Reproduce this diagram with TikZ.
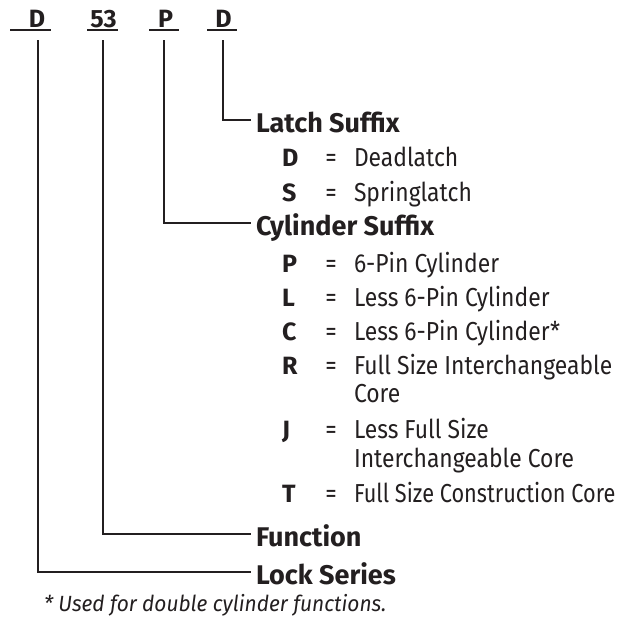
\documentclass[tikz,border=0pt]{standalone}
\usepackage{fontspec}
\setmainfont{Fira Sans}[FakeStretch=0.88]
\newfontfamily\boldfam{Fira Sans}[FakeStretch=1.0]
\newfontfamily\narrowfam{Fira Sans}[FakeStretch=0.835]
\newfontfamily\footfam{Fira Sans}[FakeStretch=0.95]
\definecolor{ink}{HTML}{231F20}
\begin{document}
\begin{tikzpicture}[x=1pt,y=-1pt,
  every node/.style={inner sep=0pt,outer sep=0pt,text=ink},
  toplbl/.style={font=\boldfam\bfseries\fontsize{25}{28}\selectfont,anchor=base},
  head/.style={font=\boldfam\fontsize{27}{30}\selectfont\bfseries,anchor=base west},
  keyl/.style={font=\boldfam\fontsize{25}{30}\selectfont\bfseries,anchor=base west},
  eqs/.style={font=\fontsize{26}{30}\selectfont,anchor=base},
  desc/.style={font=\fontsize{26}{30}\selectfont,anchor=base west},
  descn/.style={font=\narrowfam\fontsize{26}{30}\selectfont,anchor=base west},
  foot/.style={font=\footfam\fontsize{22}{26}\selectfont\itshape,anchor=base west},
  wire/.style={line width=2pt,draw=ink},
  uline/.style={line width=1.5pt,draw=ink}]
\useasboundingbox (0,0) rectangle (622,621);

% top code
\node[toplbl] (tA) at (37,27.3) {D};
\node[toplbl] (tB) at (103.5,27.3) {53};
\node[toplbl] (tC) at (165.5,27.3) {P};
\node[toplbl] (tD) at (223.5,27.3) {D};
\draw[uline] (10,30) -- (50.7,30);
\draw[line width=2.4pt,draw=ink] (10,29.8) -- (28,29.8);
\draw[uline] (87,30) -- (118,30);
\draw[uline] (149,30) -- (179,30);
\draw[uline] (207,30) -- (237,30);

\coordinate (vA) at (37.5,40);
\coordinate (vB) at (103.3,40);
\coordinate (vC) at (164.3,40);
\coordinate (vD) at (222.7,40);

% headings
\node[head] (hLatch) at (256,132.5) {Latch Suffix};
\node[head] (hCyl) at (256,235.3) {Cylinder Suffix};
\node[head] (hFunc) at (256,546.5) {Function};
\node[head] (hLock) at (256,584.7) {Lock Series};

% connectors
\draw[wire] (vD) |- ([xshift=-5.5pt,yshift=12.8pt]hLatch.base west);
\draw[wire] (vC) |- ([xshift=-5.5pt,yshift=12.8pt]hCyl.base west);
\draw[wire] (vB) |- ([xshift=-5.5pt,yshift=12.8pt]hFunc.base west);
\draw[wire] (vA) |- ([xshift=-5.5pt,yshift=12.8pt]hLock.base west);

% latch items
\node[keyl] (kD) at (282,166) {D};
\node[eqs] (eD) at (331,166) {=};
\node[desc] (dD) at (354,166) {Deadlatch};
\node[keyl] (kS) at (282,201) {S};
\node[eqs] (eS) at (331,201) {=};
\node[desc] (dS) at (354,201) {Springlatch};

% cylinder items
\node[keyl] (kP) at (282,272.5) {P};
\node[eqs] (eP) at (331,272.5) {=};
\node[desc] (dP) at (354,272.5) {6-Pin Cylinder};
\node[keyl] (kL) at (282,306.5) {L};
\node[eqs] (eL) at (331,306.5) {=};
\node[desc] (dL) at (354,306.5) {Less 6-Pin Cylinder};
\node[keyl] (kC) at (282,340.5) {C};
\node[eqs] (eC) at (331,340.5) {=};
\node[desc] (dC) at (354,340.5) {Less 6-Pin Cylinder*};
\node[keyl] (kR) at (282,374.5) {R};
\node[eqs] (eR) at (331,374.5) {=};
\node[desc] (dR) at (354,374.5) {Full Size Interchangeable};
\node[desc] (dR2) at (354,402.5) {Core};
\node[keyl] (kJ) at (282,438) {J};
\node[eqs] (eJ) at (331,438) {=};
\node[desc] (dJ) at (354,438) {Less Full Size};
\node[desc] (dJ2) at (354,467.5) {Interchangeable Core};
\node[keyl] (kT) at (282,502) {T};
\node[eqs] (eT) at (331,502) {=};
\node[descn] (dT) at (354,502) {Full Size Construction Core};

% footnote
\node[foot] (fn) at (44,611.7) {* Used for double cylinder functions.};
\end{tikzpicture}
\end{document}
